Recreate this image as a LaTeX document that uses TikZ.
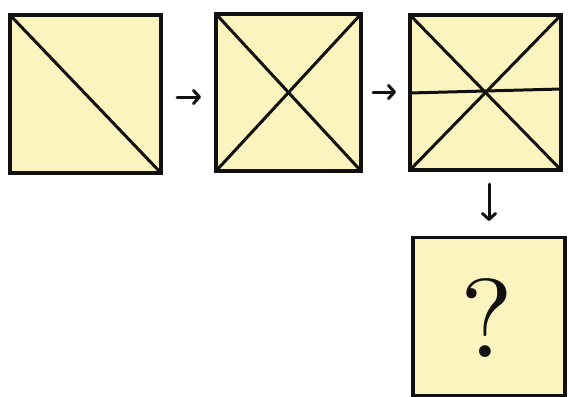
\documentclass[tikz,border=0pt]{standalone}
\usepackage{fontspec}
\newfontfamily\qfont{lmroman10-regular.otf}
\usetikzlibrary{arrows.meta}
\definecolor{paper}{RGB}{252,244,190}
\definecolor{ink}{RGB}{17,17,17}
\begin{document}
\begin{tikzpicture}[x=1pt,y=-1pt,
  sq/.style={draw=ink,fill=paper,line width=3.8pt,rectangle,inner sep=0pt,outer sep=0pt},
  diag/.style={draw=ink,line width=3pt,line cap=round},
  arr/.style={draw=ink,line width=3pt,line cap=round,-{Straight Barb[length=6pt,width=13pt,line width=3pt,round]}}]
\useasboundingbox (0,0) rectangle (569,396);
\node[sq,minimum width=151.5pt,minimum height=158.5pt] (s1) at (85.5,94) {};
\node[sq,minimum width=145.5pt,minimum height=157.5pt] (s2) at (288.5,92.5) {};
\node[sq,minimum width=151.5pt,minimum height=155.5pt] (s3) at (485.5,92.5) {};
\node[sq,minimum width=152.5pt,minimum height=158pt] (s4) at (489,316.5) {};
% diagonals
\draw[diag] (s1.north west) -- (s1.south east);
\draw[diag] (s2.north west) -- (s2.south east);
\draw[diag] (s2.north east) -- (s2.south west);
\draw[diag] (s3.north west) -- (s3.south east);
\draw[diag] (s3.north east) -- (s3.south west);
\draw[diag] ([yshift=-0.5pt]s3.west) -- ([yshift=3.5pt]s3.east);
% question mark
\node[anchor=base,inner sep=0pt,text=ink,font=\qfont\fontsize{112}{112}\selectfont] (q) at (487,357) {?};
% arrows
\coordinate (a1s) at (177,97);
\coordinate (a1e) at (201,97);
\coordinate (a2s) at (373,92);
\coordinate (a2e) at (396,92);
\coordinate (a3s) at (489,184);
\coordinate (a3e) at (489,221);
\draw[arr] (a1s) -- (a1e);
\draw[arr] (a2s) -- (a2e);
\draw[arr] (a3s) -- (a3e);
\end{tikzpicture}
\end{document}
